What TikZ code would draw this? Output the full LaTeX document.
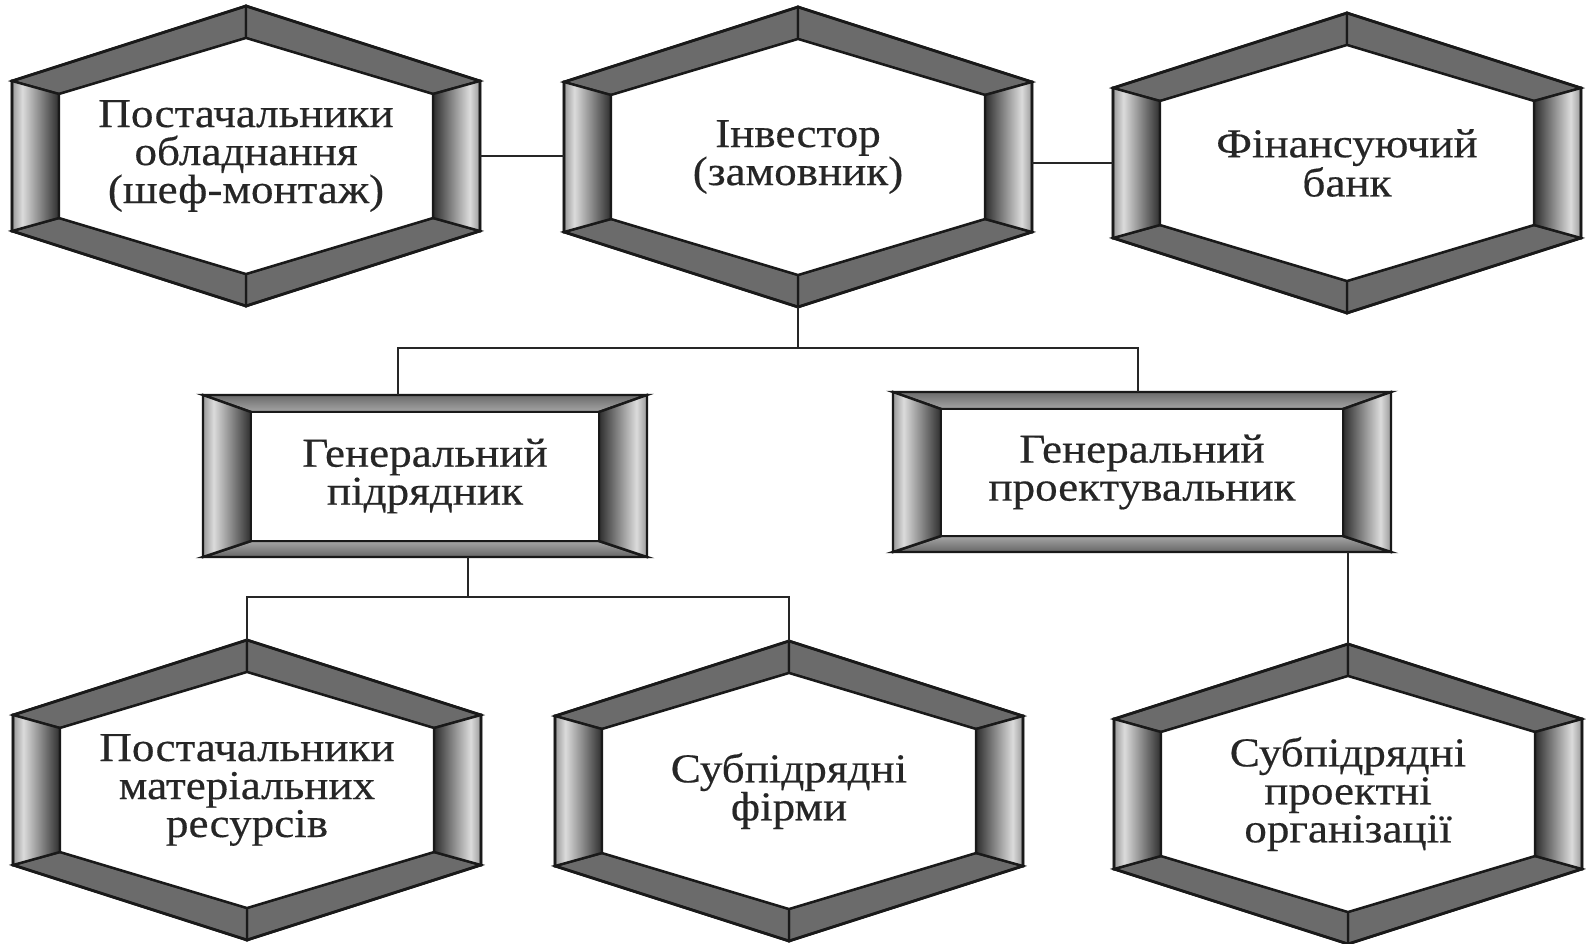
\documentclass[tikz,border=0pt]{standalone}
\usepackage{fontspec}
\setmainfont{Liberation Serif}[FakeStretch=1.1,FakeBold=0.4]
\usetikzlibrary{calc}
\pgfdeclarehorizontalshading{sideL}{100bp}{color(0bp)=(black!40); color(25bp)=(black!40); color(36bp)=(black!14); color(75bp)=(black!82); color(100bp)=(black!82)}
\pgfdeclarehorizontalshading{sideR}{100bp}{color(0bp)=(black!82); color(25bp)=(black!82); color(64bp)=(black!14); color(75bp)=(black!40); color(100bp)=(black!40)}
\tikzset{
  x=1pt, y=-1pt,
  edge/.style={line width=2.6pt, draw=black!85},
  panel/.style={fill=black!58, draw=black!90, line width=2.4pt, line join=miter},
  sidepanel/.style={draw=black!90, line width=2.4pt, line join=miter},
  outline/.style={draw=black!90, line width=2.8pt, line join=miter},
  hexnode/.style={minimum width=468pt, minimum height=300pt, inner sep=0pt, align=center,
    font=\fontsize{41}{38}\selectfont, text=black!85},
  recnode/.style={inner sep=0pt, align=center,
    font=\fontsize{41}{38}\selectfont, text=black!85}
}
\newcommand{\hexbox}[4]{%
  \begin{scope}[shift={(#2,#3)}]
    \path[panel] (-234,-75) -- (0,-150) -- (0,-118) -- (-187,-62) -- cycle;
    \path[panel] (0,-150) -- (234,-75) -- (187,-62) -- (0,-118) -- cycle;
    \path[panel] (234,75) -- (0,150) -- (0,118) -- (187,62) -- cycle;
    \path[panel] (0,150) -- (-234,75) -- (-187,62) -- (0,118) -- cycle;
    \shadedraw[sidepanel, shading=sideL] (-234,-75) -- (-187,-62) -- (-187,62) -- (-234,75) -- cycle;
    \shadedraw[sidepanel, shading=sideR] (234,-75) -- (187,-62) -- (187,62) -- (234,75) -- cycle;
    \path[fill=white, draw=black!90, line width=2.4pt] (0,-118) -- (187,-62) -- (187,62) -- (0,118) -- (-187,62) -- (-187,-62) -- cycle;
    \path[outline] (0,-150) -- (234,-75) -- (234,75) -- (0,150) -- (-234,75) -- (-234,-75) -- cycle;
  \end{scope}
  \node[hexnode] (#1) at (#2,#3) {#4};}
\newcommand{\recbox}[6]{%
  \begin{scope}[shift={(#2,#3)}]
    \shadedraw[sidepanel, top color=black!58, bottom color=black!35] ({-#4},{-#5}) -- ({#4},{-#5}) -- ({#4-48},{-#5+17}) -- ({-#4+48},{-#5+17}) -- cycle;
    \shadedraw[sidepanel, top color=black!35, bottom color=black!60] ({-#4},{#5}) -- ({#4},{#5}) -- ({#4-48},{#5-16}) -- ({-#4+48},{#5-16}) -- cycle;
    \shadedraw[sidepanel, shading=sideL] ({-#4},{-#5}) -- ({-#4+48},{-#5+17}) -- ({-#4+48},{#5-16}) -- ({-#4},{#5}) -- cycle;
    \shadedraw[sidepanel, shading=sideR] ({#4},{-#5}) -- ({#4-48},{-#5+17}) -- ({#4-48},{#5-16}) -- ({#4},{#5}) -- cycle;
    \path[fill=white, draw=black!90, line width=2.4pt] ({-#4+48},{-#5+17}) rectangle ({#4-48},{#5-16});
    \path[outline] ({-#4},{-#5}) rectangle ({#4},{#5});
  \end{scope}
  \node[recnode, minimum width={2*#4*1pt}, minimum height={2*#5*1pt}] (#1) at (#2,#3) {#6};}
\begin{document}
\begin{tikzpicture}
  \useasboundingbox (0,0) rectangle (1586,944);
  \fill[white] (0,0) rectangle (1586,944);

  \coordinate (j1) at (398,348);
  \coordinate (j2) at (1138,348);
  \coordinate (k1) at (468,597);

  \hexbox{H1}{246}{156}{Постачальники\\обладнання\\(шеф-монтаж)}
  \hexbox{H2}{798}{157}{Інвестор\\(замовник)}
  \hexbox{H3}{1347}{163}{Фінансуючий\\банк}
  \recbox{R1}{425}{476}{222}{81}{Генеральний\\підрядник}
  \recbox{R2}{1142}{472}{249}{80}{Генеральний\\проектувальник}
  \hexbox{H4}{247}{790}{Постачальники\\матеріальних\\ресурсів}
  \hexbox{H5}{789}{791}{Субпідрядні\\фірми}
  \hexbox{H6}{1348}{794}{Субпідрядні\\проектні\\організації}

  \draw[edge] (H1.east) -- (H1.east -| H2.west);
  \draw[edge] (H3.west) -- (H3.west -| H2.east);
  \draw[edge] (H2.south) -- (H2.south |- j1);
  \draw[edge] (R1.north -| j1) -- (j1) -- (j2) -- (R2.north -| j2);
  \draw[edge] (R1.south -| k1) -- (k1);
  \draw[edge] (H4.north) -- (H4.north |- k1) -- (H5.north |- k1) -- (H5.north);
  \draw[edge] (R2.south -| H6.north) -- (H6.north);
\end{tikzpicture}
\end{document}
